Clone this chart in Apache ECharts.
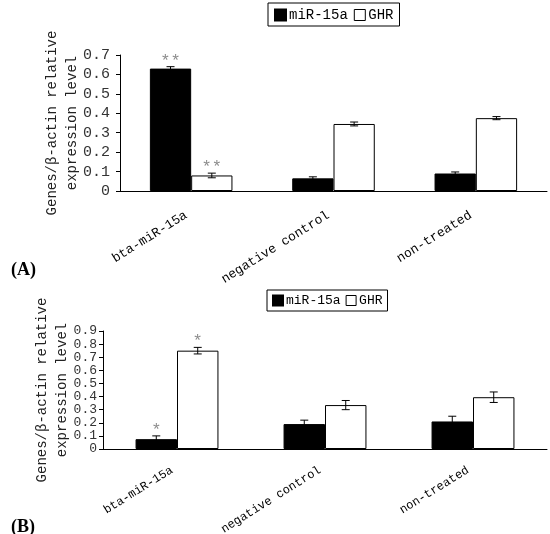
<!DOCTYPE html>
<html>
<head>
<meta charset="utf-8">
<script src="https://cdn.jsdelivr.net/npm/echarts@6/dist/echarts.min.js"></script>
<style>
  html, body { margin: 0; padding: 0; background: #fff; }
  #main { width: 550px; height: 534px; }
</style>
</head>
<body>
<div id="main"></div>
<script>
var categories = ['bta-miR-15a', 'negative control', 'non-treated'];
var yTicksA = ['0', '0.1', '0.2', '0.3', '0.4', '0.5', '0.6', '0.7'];
var yTicksB = ['0', '0.1', '0.2', '0.3', '0.4', '0.5', '0.6', '0.7', '0.8', '0.9'];

// panel A
var mirA = [0.63, 0.065, 0.09];
var mirErrA = [0.01, 0.008, 0.008];
var ghrA = [0.08, 0.345, 0.375];
var ghrErrA = [0.012, 0.01, 0.008];
var mirStarA = ['**', '', ''];
var ghrStarA = ['**', '', ''];

// panel B
var mirB = [0.075, 0.19, 0.21];
var mirErrB = [0.025, 0.03, 0.04];
var ghrB = [0.75, 0.335, 0.395];
var ghrErrB = [0.025, 0.035, 0.04];
var mirStarB = ['*', '', ''];
var ghrStarB = ['*', '', ''];

var FONT = 'Liberation Mono';

function errData(vals, errs, stars) {
  return vals.map(function (v, i) { return [i, v, errs[i], stars[i]]; });
}

// error bar drawn next to its bar: side -1 = left bar, +1 = right bar
function errRender(side, widthRatio) {
  return function (params, api) {
    var i = api.value(0), v = api.value(1), e = api.value(2);
    var star = api.value(3);
    var band = api.size([1, 0])[0];
    var dx = side * band * widthRatio / 2;
    var top = api.coord([i, v + e]);
    var bot = api.coord([i, v - e]);
    var x = top[0] + dx;
    var st = { stroke: '#000', lineWidth: 1 };
    var children = [
      { type: 'line', shape: { x1: x, y1: top[1], x2: x, y2: bot[1] }, style: st },
      { type: 'line', shape: { x1: x - 4, y1: top[1], x2: x + 4, y2: top[1] }, style: st },
      { type: 'line', shape: { x1: x - 4, y1: bot[1], x2: x + 4, y2: bot[1] }, style: st }
    ];
    if (star) {
      children.push({
        type: 'text',
        style: { text: star, x: x, y: top[1] + 3, align: 'center', verticalAlign: 'bottom',
                 fill: '#8c8c8c', font: '17px ' + FONT }
      });
    }
    return { type: 'group', children: children };
  };
}

var myChart = echarts.init(document.getElementById('main'));

var axisLine = { lineStyle: { color: '#000', width: 1 } };
var yName = 'Genes/\u03b2-actin relative\nexpression level';

function legendItems() {
  return ['miR-15a', 'GHR'].map(function (n) {
    return { name: n, itemStyle: n === 'GHR' ? { color: '#fff', borderColor: '#000', borderWidth: 1 } : { color: '#000' } };
  });
}

var option = {
  animation: false,
  title: [
    { text: '(A)', left: 6, top: 256, textStyle: { fontFamily: 'Liberation Serif', fontWeight: 'bold', fontSize: 18, color: '#000' } },
    { text: '(B)', left: 6, top: 513, textStyle: { fontFamily: 'Liberation Serif', fontWeight: 'bold', fontSize: 18, color: '#000' } }
  ],
  legend: [
    {
      data: legendItems(),
      left: 268, top: 3, orient: 'horizontal',
      borderColor: '#000', borderWidth: 1, padding: [5, 6, 4, 6],
      itemWidth: 11, itemHeight: 11, itemGap: 6, icon: 'rect',
      textStyle: { fontFamily: FONT, fontSize: 14, color: '#000', padding: [0, 0, 0, -2] },
      selectedMode: false
    },
    {
      data: legendItems(),
      left: 267, top: 290, orient: 'horizontal',
      borderColor: '#000', borderWidth: 1, padding: [4, 5, 4, 5],
      itemWidth: 10, itemHeight: 10, itemGap: 5, icon: 'rect',
      textStyle: { fontFamily: FONT, fontSize: 13, color: '#000', padding: [0, 0, 0, -2] },
      selectedMode: false
    }
  ],
  grid: [
    { left: 120, right: 3, top: 55, height: 136, outerBoundsMode: 'none' },
    { left: 103, right: 3, top: 331, height: 118, outerBoundsMode: 'none' }
  ],
  xAxis: [0, 1].map(function (g) {
    return {
      type: 'category', gridIndex: g, data: categories,
      axisLine: axisLine,
      axisTick: { inside: true, length: 5, lineStyle: { color: '#000' } },
      axisLabel: { rotate: 32, fontFamily: FONT, fontSize: g === 0 ? 13 : 12, color: '#000',
                   margin: g === 0 ? 20 : 17, padding: [0, 6, 0, 0] }
    };
  }),
  yAxis: [
    { type: 'value', gridIndex: 0, min: 0, max: 0.7, interval: 0.1 },
    { type: 'value', gridIndex: 1, min: 0, max: 0.9, interval: 0.1 }
  ].map(function (a, g) {
    var ticks = g === 0 ? yTicksA : yTicksB;
    a.name = yName;
    a.nameLocation = 'middle';
    a.nameGap = g === 0 ? 38 : 31;
    a.nameMoveOverlap = false;
    a.nameTextStyle = { fontFamily: FONT, fontSize: 14, color: '#222', lineHeight: 20 };
    a.axisLine = { show: true, lineStyle: { color: '#000', width: 1 } };
    a.axisTick = { show: true, length: 4, lineStyle: { color: '#000' } };
    a.splitLine = { show: false };
    a.axisLabel = {
      fontFamily: FONT, fontSize: g === 0 ? 15 : 13, color: '#333', margin: g === 0 ? 10 : 6,
      showMinLabel: true, showMaxLabel: true,
      formatter: function (v) { return ticks[Math.round(v * 10)]; }
    };
    return a;
  }),
  series: [
    { name: 'miR-15a', type: 'bar', xAxisIndex: 0, yAxisIndex: 0, data: mirA, barWidth: '29%', barGap: '0%',
      itemStyle: { color: '#000', borderColor: '#000', borderWidth: 1 } },
    { name: 'GHR', type: 'bar', xAxisIndex: 0, yAxisIndex: 0, data: ghrA, barWidth: '29%', barGap: '0%',
      itemStyle: { color: '#fff', borderColor: '#000', borderWidth: 1 } },
    { type: 'custom', xAxisIndex: 0, yAxisIndex: 0, data: errData(mirA, mirErrA, mirStarA), renderItem: errRender(-1, 0.29), encode: { x: 0, y: 1 }, z: 5 },
    { type: 'custom', xAxisIndex: 0, yAxisIndex: 0, data: errData(ghrA, ghrErrA, ghrStarA), renderItem: errRender(1, 0.29), encode: { x: 0, y: 1 }, z: 5 },

    { name: 'miR-15a', type: 'bar', xAxisIndex: 1, yAxisIndex: 1, data: mirB, barWidth: '28%', barGap: '0%',
      itemStyle: { color: '#000', borderColor: '#000', borderWidth: 1 } },
    { name: 'GHR', type: 'bar', xAxisIndex: 1, yAxisIndex: 1, data: ghrB, barWidth: '28%', barGap: '0%',
      itemStyle: { color: '#fff', borderColor: '#000', borderWidth: 1 } },
    { type: 'custom', xAxisIndex: 1, yAxisIndex: 1, data: errData(mirB, mirErrB, mirStarB), renderItem: errRender(-1, 0.28), encode: { x: 0, y: 1 }, z: 5 },
    { type: 'custom', xAxisIndex: 1, yAxisIndex: 1, data: errData(ghrB, ghrErrB, ghrStarB), renderItem: errRender(1, 0.28), encode: { x: 0, y: 1 }, z: 5 }
  ]
};

myChart.setOption(option);
</script>
</body>
</html>
